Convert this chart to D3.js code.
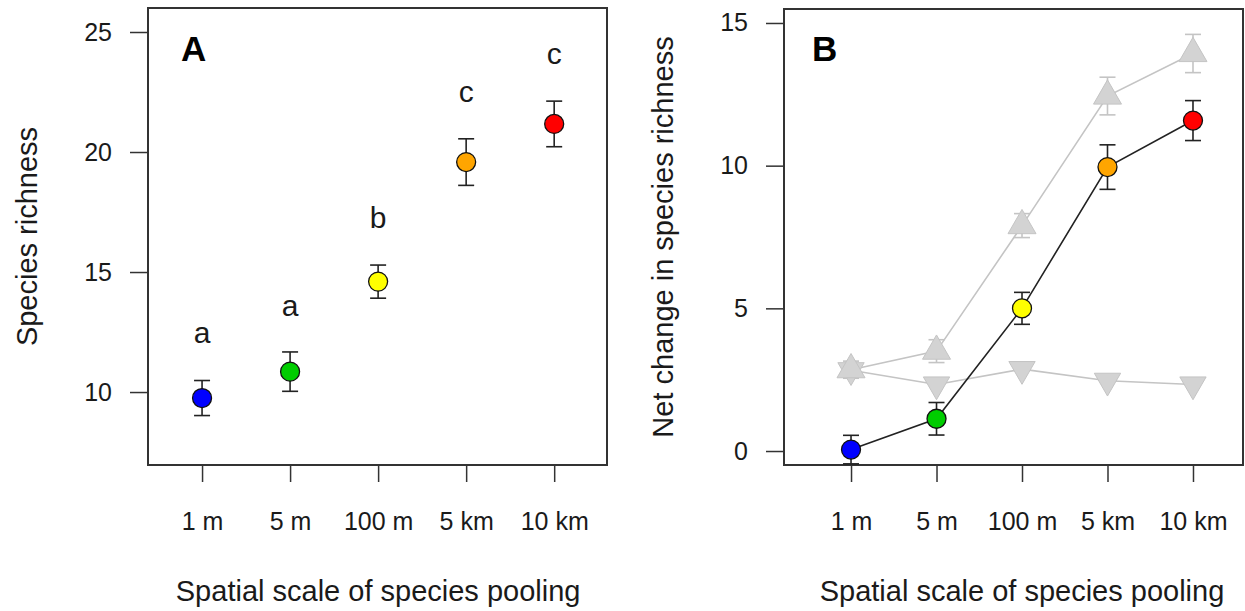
<!DOCTYPE html>
<html>
<head>
<meta charset="utf-8">
<script src="https://cdn.jsdelivr.net/npm/d3@7"></script>
<style>
  body { margin: 0; background: #fff; }
  svg { display: block; font-family: "Liberation Sans", Arial, sans-serif; }
</style>
</head>
<body>
<svg id="chart" width="1245" height="611"></svg>
<script>
// categories (spatial scale of pooling)
const scaleLabels = ["1 m", "5 m", "100 m", "5 km", "10 km"];
const scalePos = [1, 2, 3, 4, 5];
const dotColors = ["#0000ff", "#00cd00", "#ffff00", "#ffa500", "#ff0000"];

// panel A: species richness
const richMean = [9.75, 10.85, 14.6, 19.58, 21.17];
const richSE = [0.73, 0.82, 0.69, 0.97, 0.95];
const groupLetters = ["a", "a", "b", "c", "c"];
const letterY = [12.4, 13.5, 17.2, 22.45, 24.0];
const ticksA = [10, 15, 20, 25];

// panel B: net change, gains and losses
const netMean = [0.05, 1.13, 5.0, 9.95, 11.58];
const netSE = [0.5, 0.57, 0.56, 0.78, 0.7];
const gainMean = [2.85, 3.5, 7.9, 12.44, 13.93];
const gainSE = [0.3, 0.4, 0.42, 0.66, 0.67];
const lossMean = [2.83, 2.33, 2.87, 2.46, 2.33];
const ticksB = [0, 5, 10, 15];

const svg = d3.select("#chart");
const ink = "#1a1a1a";

function panel(opt) {
  const x = d3.scaleLinear().domain(opt.xDomain).range([opt.left, opt.right]);
  const y = d3.scaleLinear().domain(opt.yDomain).range([opt.bottom, opt.top]);
  const g = svg.append("g");

  // x axis
  const ax = g.append("g")
    .attr("transform", `translate(0,${opt.bottom})`)
    .call(d3.axisBottom(x).tickValues(scalePos).tickSize(17)
      .tickFormat((d, i) => scaleLabels[i]));
  ax.select(".domain").remove();
  ax.selectAll("line").attr("stroke", "#333").attr("stroke-width", 1.5);
  ax.selectAll("text").attr("y", 65).attr("dy", null)
    .attr("font-size", 25).attr("fill", ink).attr("font-family", null);

  // y axis
  const ay = g.append("g")
    .attr("transform", `translate(${opt.left},0)`)
    .call(d3.axisLeft(y).tickValues(opt.yTicks).tickSize(18).tickPadding(18));
  ay.select(".domain").remove();
  ay.selectAll("line").attr("stroke", "#333").attr("stroke-width", 1.5);
  ay.selectAll("text").attr("font-size", 25).attr("fill", ink).attr("font-family", null);

  // box
  g.append("rect")
    .attr("x", opt.left).attr("y", opt.top)
    .attr("width", opt.right - opt.left).attr("height", opt.bottom - opt.top)
    .attr("fill", "none").attr("stroke", "#333").attr("stroke-width", 2);

  // titles
  g.append("text")
    .attr("x", x(3)).attr("y", 601)
    .attr("text-anchor", "middle").attr("font-size", 29).attr("fill", ink)
    .text("Spatial scale of species pooling");
  g.append("text")
    .attr("transform", `translate(${opt.yTitleX},${(opt.top + opt.bottom) / 2}) rotate(-90)`)
    .attr("text-anchor", "middle").attr("font-size", 29).attr("fill", ink)
    .text(opt.yTitle);
  g.append("text")
    .attr("x", opt.tagX).attr("y", 61)
    .attr("font-size", 35).attr("font-weight", "bold").attr("fill", "#000")
    .text(opt.tag);

  return { g, x, y };
}

function errorBars(g, x, y, mean, se, color) {
  const eb = g.append("g").attr("stroke", color).attr("stroke-width", 1.6).attr("fill", "none");
  scalePos.forEach((p, i) => {
    const lo = y(mean[i] - se[i]), hi = y(mean[i] + se[i]), cx = x(p);
    eb.append("line").attr("x1", cx).attr("x2", cx).attr("y1", lo).attr("y2", hi);
    eb.append("line").attr("x1", cx - 8).attr("x2", cx + 8).attr("y1", lo).attr("y2", lo);
    eb.append("line").attr("x1", cx - 8).attr("x2", cx + 8).attr("y1", hi).attr("y2", hi);
  });
}

function dots(g, x, y, mean) {
  g.append("g").selectAll("circle")
    .data(mean)
    .join("circle")
    .attr("cx", (d, i) => x(scalePos[i]))
    .attr("cy", d => y(d))
    .attr("r", 9.5)
    .attr("fill", (d, i) => dotColors[i])
    .attr("stroke", "#111")
    .attr("stroke-width", 1.3);
}

// ---- Panel A
const A = panel({
  left: 148, right: 607, top: 8, bottom: 465,
  xDomain: [0.386, 5.6], yDomain: [6.96, 26], yTicks: ticksA,
  yTitle: "Species richness", yTitleX: 37, tag: "A", tagX: 181
});
errorBars(A.g, A.x, A.y, richMean, richSE, "#222");
dots(A.g, A.x, A.y, richMean);
A.g.append("g").selectAll("text")
  .data(groupLetters)
  .join("text")
  .attr("x", (d, i) => A.x(scalePos[i]))
  .attr("y", (d, i) => A.y(letterY[i]))
  .attr("dy", "0.28em")
  .attr("text-anchor", "middle")
  .attr("font-size", 30).attr("fill", ink)
  .text(d => d);

// ---- Panel B
const B = panel({
  left: 784, right: 1243, top: 9, bottom: 465,
  xDomain: [0.216, 5.585], yDomain: [-0.49, 15.49], yTicks: ticksB,
  yTitle: "Net change in species richness", yTitleX: 673, tag: "B", tagX: 812
});

const line = d3.line().x((d, i) => B.x(scalePos[i])).y(d => B.y(d));
const grey = "#c4c4c4";

B.g.append("path").attr("d", line(lossMean)).attr("fill", "none")
  .attr("stroke", grey).attr("stroke-width", 1.6);
B.g.append("path").attr("d", line(gainMean)).attr("fill", "none")
  .attr("stroke", grey).attr("stroke-width", 1.6);
errorBars(B.g, B.x, B.y, gainMean, gainSE, grey);

const upTri = d3.symbol().type(d3.symbolTriangle).size(340);
const downTri = d3.symbol().type(d3.symbolTriangle).size(300);

B.g.append("g").selectAll("path")
  .data(lossMean)
  .join("path")
  .attr("d", downTri)
  .attr("transform", (d, i) => `translate(${B.x(scalePos[i])},${B.y(d)}) rotate(180)`)
  .attr("fill", "#d3d3d3").attr("stroke", grey).attr("stroke-width", 1);

B.g.append("g").selectAll("path")
  .data(gainMean)
  .join("path")
  .attr("d", upTri)
  .attr("transform", (d, i) => `translate(${B.x(scalePos[i])},${B.y(d)})`)
  .attr("fill", "#d3d3d3").attr("stroke", grey).attr("stroke-width", 1);

B.g.append("path").attr("d", line(netMean)).attr("fill", "none")
  .attr("stroke", "#222").attr("stroke-width", 1.6);
errorBars(B.g, B.x, B.y, netMean, netSE, "#222");
dots(B.g, B.x, B.y, netMean);
</script>
</body>
</html>
